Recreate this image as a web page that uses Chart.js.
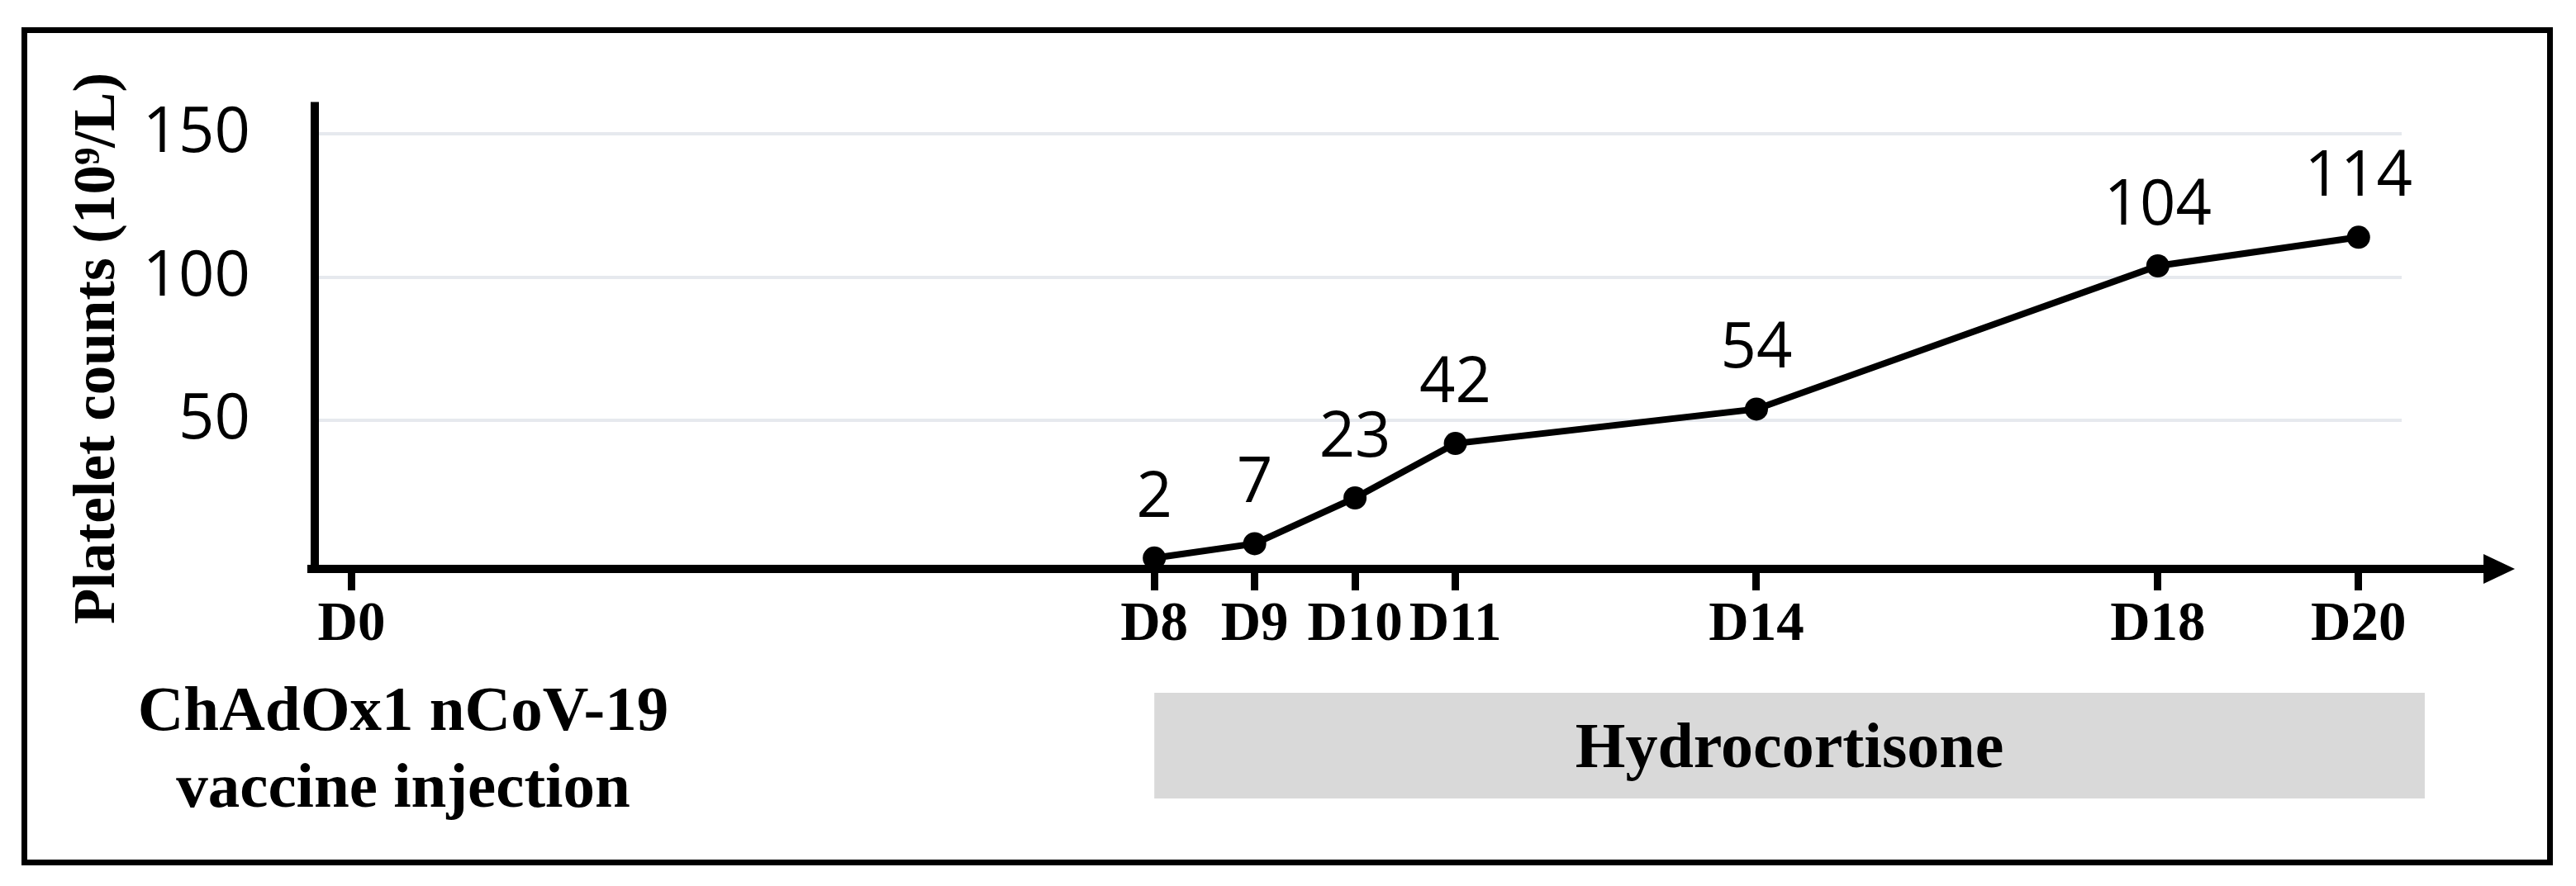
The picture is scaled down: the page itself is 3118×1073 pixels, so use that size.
<!DOCTYPE html>
<html>
<head>
<meta charset="utf-8">
<script src="https://cdn.jsdelivr.net/npm/chart.js@4.4.1/dist/chart.umd.min.js"></script>
<style>
  html, body { margin: 0; padding: 0; background: #fff; }
  canvas { display: block; }
</style>
</head>
<body>
<canvas id="PlateletChart" width="3118" height="1073"></canvas>
<script>
const days = [8, 9, 10, 11, 14, 18, 20];
const platelets = [2, 7, 23, 42, 54, 104, 114];
const dayTicks = [0, 8, 9, 10, 11, 14, 18, 20];
const countTicks = [50, 100, 150];
const treatmentSpan = [8, 20.66];
const treatmentLabel = 'Hydrocortisone';
const vaccineLabel = ['ChAdOx1 nCoV-19', 'vaccine injection'];
const yTitle = 'Platelet counts (10\u2079/L)';

const serif = '"Liberation Serif", "Times New Roman", serif';
const sans = '"Open Sans", "Noto Sans", sans-serif';

const chart_ctx = document.getElementById('PlateletChart').getContext('2d');

// frame, axis lines with arrow, value labels and the bits under the axis
const extras = {
    id: 'extras',
    beforeDraw(chart) {
        const c = chart.ctx;
        c.save();
        c.fillStyle = '#fff';
        c.fillRect(0, 0, chart.width, chart.height);
        c.strokeStyle = '#000';
        c.lineWidth = 7;
        c.strokeRect(29.5, 36.5, 3057, 1008);
        c.restore();
    },
    beforeDatasetsDraw(chart) {
        const c = chart.ctx;
        const a = chart.chartArea;
        c.save();
        c.strokeStyle = '#000';
        c.fillStyle = '#000';
        c.lineWidth = 10;
        c.beginPath();
        c.moveTo(a.left, a.top);
        c.lineTo(a.left, a.bottom + 5);
        c.stroke();
        c.beginPath();
        c.moveTo(a.left - 9, a.bottom);
        c.lineTo(3010, a.bottom);
        c.stroke();
        c.beginPath();
        c.moveTo(3006, a.bottom - 18);
        c.lineTo(3044, a.bottom);
        c.lineTo(3006, a.bottom + 18);
        c.closePath();
        c.fill();
        c.restore();
    },
    afterDatasetsDraw(chart) {
        const c = chart.ctx;
        const meta = chart.getDatasetMeta(0);
        c.save();
        c.fillStyle = '#000';
        c.font = '76px ' + sans;
        c.textAlign = 'center';
        c.textBaseline = 'alphabetic';
        meta.data.forEach((pt, i) => {
            c.fillText(String(platelets[i]), pt.x, pt.y - 50);
        });
        c.restore();
    },
    afterDraw(chart) {
        const c = chart.ctx;
        const x = chart.scales.x;
        c.save();
        c.fillStyle = '#000';

        // y axis title
        c.save();
        c.translate(138, 422);
        c.rotate(-Math.PI / 2);
        c.font = 'bold 71px ' + serif;
        c.textAlign = 'center';
        c.textBaseline = 'alphabetic';
        c.fillText(yTitle, 0, 0);
        c.restore();

        // treatment bar
        const x0 = x.getPixelForValue(treatmentSpan[0]);
        const x1 = x.getPixelForValue(treatmentSpan[1]);
        c.fillStyle = '#d9d9d9';
        c.fillRect(x0, 839, x1 - x0, 128);
        c.fillStyle = '#000';
        c.font = 'bold 78px ' + serif;
        c.textAlign = 'center';
        c.fillText(treatmentLabel, (x0 + x1) / 2, 929);

        // vaccine note
        c.font = 'bold 77px ' + serif;
        c.fillText(vaccineLabel[0], 488, 884);
        c.fillText(vaccineLabel[1], 488, 977);
        c.restore();
    }
};

const line_data = {
    datasets: [{
        label: 'Platelet counts',
        data: days.map((d, i) => ({ x: d, y: platelets[i] })),
        borderColor: '#000',
        backgroundColor: '#000',
        borderWidth: 8,
        pointRadius: 14,
        pointBackgroundColor: '#000',
        pointBorderWidth: 0,
        tension: 0
    }]
};

const line_config = {
    type: 'line',
    data: line_data,
    options: {
        responsive: false,
        animation: false,
        devicePixelRatio: 1,
        layout: {
            padding: { left: 0, top: 112, right: 211, bottom: 284 }
        },
        scales: {
            x: {
                type: 'linear',
                min: -0.366,
                max: 20.43,
                afterBuildTicks: scale => { scale.ticks = dayTicks.map(v => ({ value: v })); },
                afterFit: scale => { scale.height = 100; },
                border: { display: false },
                grid: {
                    drawOnChartArea: false,
                    drawTicks: true,
                    tickLength: 26,
                    tickWidth: 9,
                    tickColor: '#000'
                },
                ticks: {
                    autoSkip: false,
                    maxRotation: 0,
                    padding: 2,
                    color: '#000',
                    font: { family: serif, size: 67, weight: 'bold' },
                    callback: v => 'D' + v
                }
            },
            y: {
                min: -1.8,
                max: 161.2,
                afterBuildTicks: scale => { scale.ticks = countTicks.map(v => ({ value: v })); },
                afterFit: scale => { scale.width = 381; },
                border: { display: false },
                grid: {
                    drawTicks: false,
                    color: '#e6e9ee',
                    lineWidth: 4
                },
                ticks: {
                    padding: 78,
                    color: '#000',
                    font: { family: sans, size: 76 }
                }
            }
        },
        plugins: {
            legend: { display: false },
            title: { display: false },
            tooltip: { enabled: false }
        }
    },
    plugins: [extras]
};

new Chart(chart_ctx, line_config);
</script>
</body>
</html>
